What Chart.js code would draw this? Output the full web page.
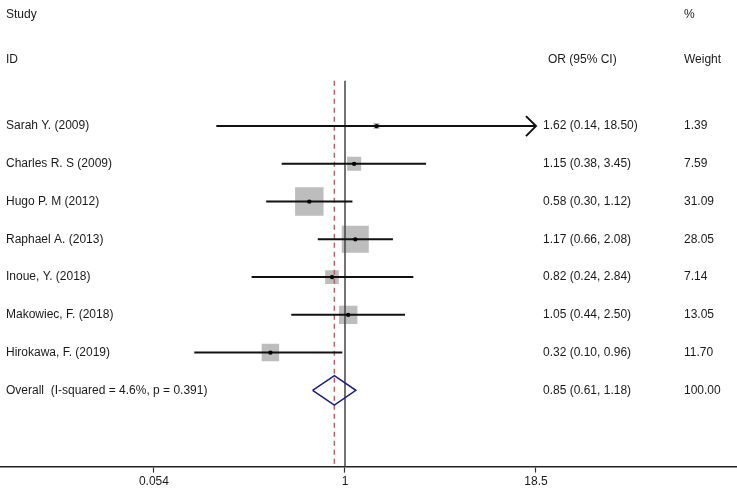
<!DOCTYPE html>
<html>
<head>
<meta charset="utf-8">
<script src="https://cdn.jsdelivr.net/npm/chart.js@4.4.1/dist/chart.umd.min.js"></script>
<style>
  html, body { margin: 0; padding: 0; background: #fff; }
  canvas { display: block; }
</style>
</head>
<body>
<canvas id="forest" width="737" height="492"></canvas>
<script>
const studies = ['Sarah Y. (2009)', 'Charles R. S (2009)', 'Hugo P. M (2012)', 'Raphael A. (2013)',
  'Inoue, Y. (2018)', 'Makowiec, F. (2018)', 'Hirokawa, F. (2019)'];
const orValues = [1.62, 1.15, 0.58, 1.17, 0.82, 1.05, 0.32];
const ciLower = [0.14, 0.38, 0.30, 0.66, 0.24, 0.44, 0.10];
const ciUpper = [18.50, 3.45, 1.12, 2.08, 2.84, 2.50, 0.96];
const weights = [1.39, 7.59, 31.09, 28.05, 7.14, 13.05, 11.70];

const overallLabel = 'Overall  (I-squared = 4.6%, p = 0.391)';
const overallOR = 0.85;
const overallLower = 0.61;
const overallUpper = 1.18;
const overallWeight = 100.00;

const tickValues = [0.054, 1, 18.5];
const tickLabels = ['0.054', '1', '18.5'];

const fmt = v => v.toFixed(2);
const overallRow = studies.length;

// CI whiskers, one small line dataset each
const ciSets = studies.map((s, i) => ({
  type: 'line',
  data: [{ x: ciLower[i], y: i }, { x: ciUpper[i], y: i }],
  borderColor: '#111',
  borderWidth: 2,
  pointRadius: 0,
  order: 3
}));

const FONT = '12px "Liberation Sans", Arial, sans-serif';

const textPlugin = {
  id: 'forestText',
  afterDatasetsDraw(chart) {
    const { ctx, scales: { x, y } } = chart;
    ctx.save();
    ctx.font = FONT;
    ctx.fillStyle = '#1a1a1a';
    ctx.textBaseline = 'middle';
    ctx.textAlign = 'left';
    ctx.fillText('Study', 6, 15);
    ctx.fillText('%', 684, 15);
    ctx.fillText('ID', 6, 60);
    ctx.fillText('OR (95% CI)', 548, 60);
    ctx.fillText('Weight', 684, 60);
    studies.forEach((s, i) => {
      const py = y.getPixelForValue(i);
      ctx.fillText(s, 6, py);
      ctx.fillText(fmt(orValues[i]) + ' (' + fmt(ciLower[i]) + ', ' + fmt(ciUpper[i]) + ')', 543, py);
      ctx.fillText(fmt(weights[i]), 684, py);
    });
    const oy = y.getPixelForValue(overallRow);
    ctx.fillText(overallLabel, 6, oy);
    ctx.fillText(fmt(overallOR) + ' (' + fmt(overallLower) + ', ' + fmt(overallUpper) + ')', 543, oy);
    ctx.fillText(fmt(overallWeight), 684, oy);

    // arrow where the CI runs past the plotted range
    ctx.strokeStyle = '#111';
    ctx.lineWidth = 2;
    studies.forEach((s, i) => {
      if (ciUpper[i] >= tickValues[tickValues.length - 1]) {
        const px = x.getPixelForValue(ciUpper[i]);
        const py = y.getPixelForValue(i);
        ctx.beginPath();
        ctx.moveTo(px - 10, py - 10);
        ctx.lineTo(px, py);
        ctx.lineTo(px - 10, py + 10);
        ctx.stroke();
      }
    });
    ctx.restore();
  }
};

new Chart(document.getElementById('forest'), {
  type: 'scatter',
  data: {
    datasets: [
      {
        // line of no effect
        type: 'line',
        data: [{ x: 1, y: -1.2 }, { x: 1, y: 9.1 }],
        borderColor: '#444',
        borderWidth: 1.5,
        pointRadius: 0,
        order: 5
      },
      {
        // pooled estimate reference line
        type: 'line',
        data: [{ x: overallOR, y: -1.2 }, { x: overallOR, y: 9.1 }],
        borderColor: '#b8606f',
        borderWidth: 1.5,
        borderDash: [5, 4],
        pointRadius: 0,
        order: 4
      },
      ...ciSets,
      {
        // weight boxes
        data: orValues.map((v, i) => ({ x: v, y: i })),
        pointStyle: 'rect',
        pointRadius: ctx => 5.1 * Math.sqrt(weights[ctx.dataIndex]) / Math.SQRT2,
        backgroundColor: '#bdbdbd',
        borderWidth: 0,
        order: 6
      },
      {
        // point estimates
        data: orValues.map((v, i) => ({ x: v, y: i })),
        pointRadius: 2.2,
        backgroundColor: '#000',
        borderWidth: 0,
        order: 1
      },
      {
        // pooled diamond
        type: 'line',
        data: [
          { x: overallLower, y: overallRow },
          { x: overallOR, y: overallRow - 0.39 },
          { x: overallUpper, y: overallRow },
          { x: overallOR, y: overallRow + 0.39 },
          { x: overallLower, y: overallRow }
        ],
        borderColor: '#1c1f8a',
        borderWidth: 1.6,
        pointRadius: 0,
        fill: false,
        tension: 0,
        order: 0
      }
    ]
  },
  options: {
    responsive: false,
    animation: false,
    layout: { autoPadding: false, padding: { left: 0, right: 0, top: 0, bottom: 1 } },
    plugins: {
      legend: { display: false },
      tooltip: { enabled: false }
    },
    scales: {
      x: {
        type: 'logarithmic',
        min: 0.00514,
        max: 399,
        afterBuildTicks: scale => {
          scale.ticks = tickValues.map(v => ({ value: v }));
        },
        ticks: {
          autoSkip: false,
          maxRotation: 0,
          padding: 2,
          color: '#1a1a1a',
          font: { family: '"Liberation Sans", Arial, sans-serif', size: 12 },
          callback: (v, i) => tickLabels[i]
        },
        grid: {
          display: true,
          drawOnChartArea: false,
          drawTicks: true,
          tickLength: 6,
          tickColor: '#333',
          tickWidth: 1.2
        },
        border: { display: true, color: '#222', width: 1.6 }
      },
      y: {
        type: 'linear',
        display: false,
        reverse: true,
        min: -3.34,
        max: 9.02
      }
    }
  },
  plugins: [textPlugin]
});
</script>
</body>
</html>
